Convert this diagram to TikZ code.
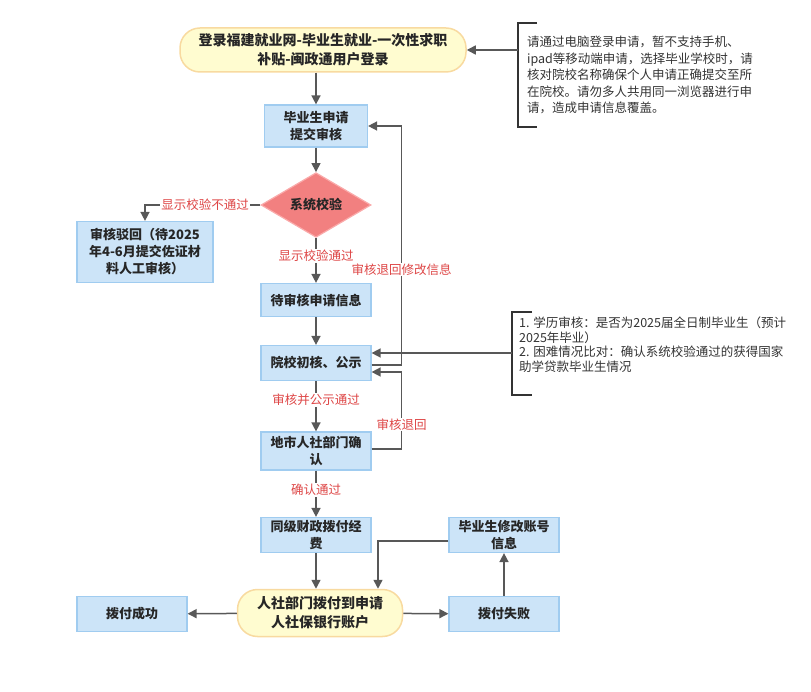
\documentclass[tikz,border=0pt]{standalone}
\usepackage{fontspec}
\setmainfont{Noto Sans CJK SC}
\usetikzlibrary{arrows.meta,positioning,shapes.geometric}

\definecolor{boxfill}{RGB}{204,228,248}
\definecolor{boxline}{RGB}{160,204,240}
\definecolor{pillfill}{RGB}{255,252,208}
\definecolor{pillline}{RGB}{248,218,160}
\definecolor{checkfill}{RGB}{242,128,128}
\definecolor{checkline}{RGB}{250,170,170}
\definecolor{flowgray}{RGB}{88,88,88}
\definecolor{lblred}{RGB}{222,70,70}

\begin{document}
\begin{tikzpicture}[x=1pt,y=-1pt,on grid,
   box/.style={draw=boxline,fill=boxfill,line width=1.2pt,align=center,
      minimum width=110pt,minimum height=35pt,inner sep=2pt,
      font=\fontsize{13}{17}\selectfont\bfseries,text=black!85},
   pill/.style={draw=pillline,fill=pillfill,line width=1.5pt,rounded corners=20pt,
      align=center,inner sep=2pt,font=\fontsize{14}{19}\selectfont\bfseries,text=black!85},
   check/.style={diamond,draw=checkline,fill=checkfill,line width=1.2pt,
      minimum width=110pt,minimum height=50pt,inner sep=0pt,
      font=\fontsize{13}{17}\selectfont\bfseries,text=black!85},
   lbl/.style={fill=white,text=lblred,inner sep=1pt,font=\fontsize{12.5}{15}\selectfont},
   note/.style={align=left,anchor=north west,inner sep=0pt,text=black!80},
   arr/.style={draw=flowgray,line width=1.5pt,-{Triangle[width=9pt,length=9pt]}},
   bracket/.style={draw=black!80,line width=1.5pt}]
   \useasboundingbox (0,0) rectangle (811,692);

   % main column
   \node[pill,minimum width=286pt,minimum height=44pt] (start) at (323,50)
      {登录福建就业网-毕业生就业-一次性求职\\补贴-闽政通用户登录};
   \node[box,minimum width=103pt,minimum height=42pt] (submit) at (316,126) {毕业生申请\\提交审核};
   \node[check] (check) [below=79pt of submit] {系统校验};
   \node[box,minimum width=136pt,minimum height=61pt] (reject) at (145,252)
      {审核驳回（待2025\\年4-6月提交佐证材\\料人工审核）};
   \node[box,minimum height=33pt] (pending) [below=95pt of check] {待审核申请信息};
   \node[box] (school) [below=63pt of pending] {院校初核、公示};
   \node[box,minimum height=38pt] (city) [below=88pt of school] {地市人社部门确\\认};
   \node[box] (finance) [below=84pt of city] {同级财政拨付经\\费};
   \node[pill,minimum width=165pt,minimum height=47pt] (pay) at (320,613)
      {人社部门拨付到申请\\人社保银行账户};
   \node[box] (success) at (132,614) {拨付成功};
   \node[box] (fail) at (504,614) {拨付失败};
   \node[box] (account) at (504,535) {毕业生修改账号\\信息};

   % notes
   \node[note,font=\fontsize{12.5}{16.5}\selectfont] (note1) at (527,36)
      {请通过电脑登录申请，暂不支持手机、\\ipad等移动端申请，选择毕业学校时，请\\核对院校名称确保个人申请正确提交至所\\在院校。请勿多人共用同一浏览器进行申\\请，造成申请信息覆盖。};
   \node[note,font=\fontsize{12.5}{14.5}\selectfont] (note2) at (519,317)
      {1. 学历审核：是否为2025届全日制毕业生（预计\\2025年毕业）\\2. 困难情况比对：确认系统校验通过的获得国家\\助学贷款毕业生情况};
   \coordinate (n1mid) at (518,50);
   \coordinate (n2mid) at (512,353);
   \draw[bracket] (537,23) -- (518,23) -- (518,127) -- (537,127);
   \draw[bracket] (532,312) -- (512,312) -- (512,395) -- (532,395);

   % connectors
   \draw[arr] (submit |- start.south) -- (submit);
   \draw[arr] (submit) -- (check);
   \draw[arr] (check.west) -| node[lbl,pos=0.24] {显示校验不通过} (reject.north);
   \draw[arr] (check) -- node[lbl,pos=0.4] {显示校验通过} (pending);
   \draw[arr] (pending) -- (school);
   \draw[arr] (school) -- node[lbl,pos=0.38] {审核并公示通过} (city);
   \draw[arr] (city) -- node[lbl,pos=0.42] {确认通过} (finance);
   \draw[arr] (finance) -- (finance |- pay.north);
   \draw[arr] (pay) -- (success);
   \draw[arr] (pay) -- (fail);
   \draw[arr] (fail) -- (account);
   \draw[arr] ([yshift=-6pt]account.west) -| ([xshift=58pt]pay.north);
   \draw[arr] ([yshift=-2pt]school.east) -- ++(30,0)
      |- node[lbl,pos=0.2] {审核退回修改信息} (submit.east);
   \draw[arr] ([yshift=2pt]city.east) -- ++(30,0)
      |- node[lbl,pos=0.16] {审核退回} ([yshift=-9pt]school.east);
   \draw[arr] (n1mid) -- (start.east);
   \draw[arr] (n2mid) -- (school.east |- n2mid);
\end{tikzpicture}
\end{document}
